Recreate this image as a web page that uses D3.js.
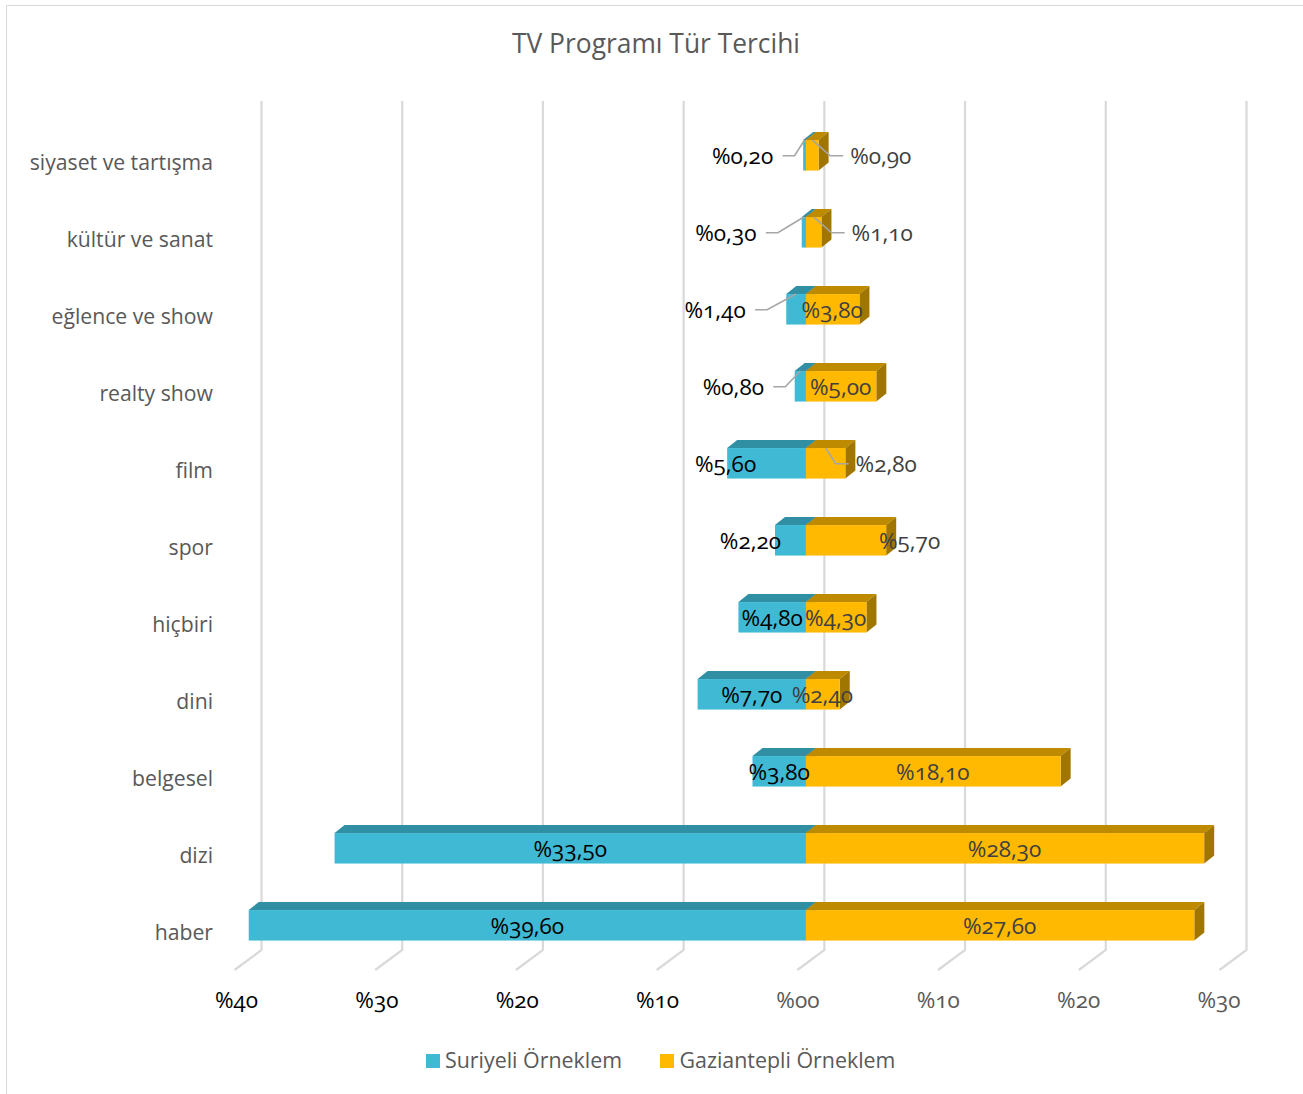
<!DOCTYPE html>
<html><head><meta charset="utf-8">
<script src="https://cdn.jsdelivr.net/npm/d3@7"></script>
<style>
html,body{margin:0;padding:0;background:#fff}
svg{display:block}
text{font-family:"Open Sans",Lato,sans-serif;font-feature-settings:"onum" 1;font-variant-numeric:oldstyle-nums}
</style></head><body><svg id="c" width="1303" height="1094"></svg>
<script>
const categories=["haber","dizi","belgesel","dini","hiçbiri","spor","film","realty show","eğlence ve show","kültür ve sanat","siyaset ve tartışma"];
const suriyeli=[39.6,33.5,3.8,7.7,4.8,2.2,5.6,0.8,1.4,0.3,0.2];
const gaziantepli=[27.6,28.3,18.1,2.4,4.3,5.7,2.8,5.0,3.8,1.1,0.9];
const ticks=[-40,-30,-20,-10,0,10,20,30];
const seriesNames=["Suriyeli Örneklem","Gaziantepli Örneklem"];
const title="TV Programı Tür Tercihi";
// layout of moved data labels, px from bar centre
const leftShift=[0,0,0,0,0,-40,-41,-67,-81,-78,-62];
const rightShift=[0,0,0,0,0,64,61,0,0,69,69];
const leftLeader=[0,0,0,0,0,0,0,1,1,1,1];
const rightLeader=[0,0,0,0,0,0,1,0,0,1,1];

const svg=d3.select("#c");
const c={teal:"#40BAD4",tealTop:"#318FA3",tealSide:"#2A7A8C",gold:"#FFB900",goldTop:"#BD8A00",goldSide:"#A07500",grid:"#D9D9D9",dark:"#595959",lab:"#404040"};
const dx=10,dy=8,barH=30.5;
const floor=d3.scaleLinear().domain([-40,30]).range([233.5,1218.5]); // front edge of floor
const x=d3.scaleLinear().domain([-40,30]).range([233.5+9.6,1218.5+9.6]); // front plane of bars
const tickX=d3.scaleLinear().domain([-40,30]).range([236.5,1219]); // axis label centres
const y=d3.scaleBand().domain(categories).range([964.5,117.5]);
const cy=i=>y(categories[i])+y.bandwidth()/2-0.7;
const fmt=v=>"%"+d3.format("02d")(Math.abs(v));
const val=v=>"%"+v.toFixed(2).replace(".",",");

// frame
svg.append("path").attr("d","M6.5,1094V5.5H1303").attr("fill","none").attr("stroke","#D9D9D9").attr("stroke-width",1);

// title
svg.append("text").attr("x",656).attr("y",53).attr("text-anchor","middle").attr("font-size",26.4).attr("fill",c.dark).text(title);

// gridlines (back wall + floor)
const gridTop=101,gridBottom=950;
svg.append("g").selectAll("path").data(ticks).join("path")
 .attr("d",t=>`M${floor(t)+28},${gridTop}V${gridBottom}L${floor(t)+1},${gridBottom+20}`)
 .attr("fill","none").attr("stroke",c.grid).attr("stroke-width",2.2);

// axis labels
svg.append("g").selectAll("text").data(ticks).join("text")
 .attr("x",t=>tickX(t)).attr("y",1008).attr("text-anchor","middle").attr("font-size",22.5)
 .attr("fill",t=>t<0?"#000":c.dark).text(fmt);

// category labels
svg.append("g").selectAll("text").data(categories).join("text")
 .attr("x",213).attr("y",(d,i)=>cy(i)+14.7).attr("text-anchor","end").attr("font-size",21.2).attr("fill",c.dark).text(d=>d);

// 3D bars
function bar(g,x0,x1,yc,f,t,s){
  const top=yc-barH/2;
  g.append("path").attr("d",`M${x0},${top}L${x0+dx},${top-dy}H${x1+dx}L${x1},${top}Z`).attr("fill",t);
  g.append("path").attr("d",`M${x1},${top}L${x1+dx},${top-dy}V${top+barH-dy}L${x1},${top+barH}Z`).attr("fill",s);
  g.append("rect").attr("x",x0).attr("y",top).attr("width",x1-x0).attr("height",barH).attr("fill",f);
}
const bars=svg.append("g");
categories.forEach((d,i)=>{
  const g=bars.append("g");
  bar(g,x(-suriyeli[i]),x(0),cy(i),c.teal,c.tealTop,c.tealSide);
  bar(g,x(0),x(gaziantepli[i]),cy(i),c.gold,c.goldTop,c.goldSide);
});

// leaders + labels
const L=svg.append("g"),T=svg.append("g");
categories.forEach((d,i)=>{
  const yc=cy(i),ly=yc+8.2,top=yc-barH/2;
  const a=x(-suriyeli[i]/2),lx=a+leftShift[i];
  const b=x(gaziantepli[i]/2),rx=b+rightShift[i];
  if(leftLeader[i]) L.append("path").attr("d",`M${lx+40},${yc+0.5}h12L${a},${top}`).attr("fill","none").attr("stroke","#A6A6A6").attr("stroke-width",1.6);
  if(rightLeader[i]) L.append("path").attr("d",`M${rx-38},${yc+0.5}h-13L${b},${top}`).attr("fill","none").attr("stroke","#A6A6A6").attr("stroke-width",1.6);
  T.append("text").attr("x",lx).attr("y",ly).attr("text-anchor","middle").attr("font-size",22.5).attr("fill","#000").text(val(suriyeli[i]));
  T.append("text").attr("x",rx-0.5).attr("y",ly).attr("text-anchor","middle").attr("font-size",22.5).attr("fill",c.lab).text(val(gaziantepli[i]));
});

// legend
const lg=svg.append("g");
[[426,445,c.teal],[660,679.5,c.gold]].forEach((p,i)=>{
  lg.append("rect").attr("x",p[0]).attr("y",1054).attr("width",14).attr("height",14).attr("fill",p[2]);
  lg.append("text").attr("x",p[1]).attr("y",1068).attr("font-size",21.4).attr("fill",c.dark).text(seriesNames[i]);
});
</script></body></html>
